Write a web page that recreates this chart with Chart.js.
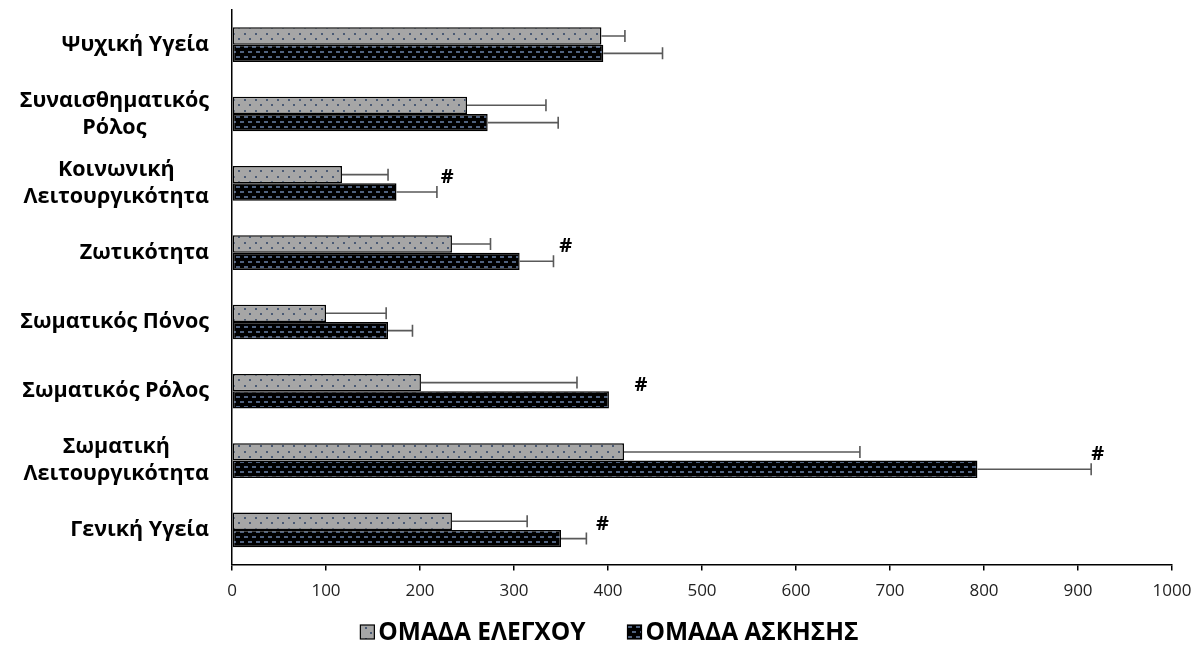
<!DOCTYPE html>
<html><head><meta charset="utf-8">
<script src="https://cdn.jsdelivr.net/npm/chart.js@4/dist/chart.umd.min.js"></script>
<style>html,body{margin:0;padding:0;background:#fff}#wrap{width:1199px;height:652px;position:relative}</style>
</head><body><div id="wrap"><canvas id="c"></canvas></div>
<script>
const categories = ['Ψυχική Υγεία', ['Συναισθηματικός','Ρόλος'], ['Κοινωνική','Λειτουργικότητα'], 'Ζωτικότητα', 'Σωματικός Πόνος', 'Σωματικός Ρόλος', ['Σωματική','Λειτουργικότητα'], 'Γενική Υγεία'];
const seriesNames = ['ΟΜΑΔΑ ΕΛΕΓΧΟΥ', 'ΟΜΑΔΑ ΑΣΚΗΣΗΣ'];
const controlValues = [393, 250, 117, 234, 100, 201, 417, 234];
const controlErrors = [25, 84, 49, 41, 64, 166, 251, 80];
const exerciseValues = [395, 272, 175, 306, 166, 401, 793, 350];
const exerciseErrors = [63, 75, 43, 36, 26, 0, 121, 27];
const sigMarkValues = [null, null, 229, 355, null, 435, 921, 394];
const xTicks = [0, 100, 200, 300, 400, 500, 600, 700, 800, 900, 1000];

function makePattern(w, h, bg, fg, marks) {
  const c = document.createElement('canvas'); c.width = w; c.height = h;
  const g = c.getContext('2d');
  g.fillStyle = bg; g.fillRect(0, 0, w, h);
  g.fillStyle = fg;
  marks.forEach(m => g.fillRect(m[0], m[1], m[2], m[3]));
  return document.getElementById('c').getContext('2d').createPattern(c, 'repeat');
}
const dotPattern = makePattern(11, 11, '#a6a6a6', '#4a5a74', [[2,0,2,2],[7,5,2,2]]);
const dashPattern = makePattern(8, 10, '#000000', '#50627f', [[0,1,4,2],[4,6,4,2]]);
const fills = [dotPattern, dashPattern];
const allErrors = [controlErrors, exerciseErrors];

const errorBars = {
  id: 'errorBars',
  afterDatasetsDraw(chart) {
    const ctx = chart.ctx, xs = chart.scales.x;
    chart.data.datasets.forEach((ds, di) => {
      const meta = chart.getDatasetMeta(di);
      meta.data.forEach((bar, i) => {
        const e = allErrors[di][i]; if (!e) return;
        const x0 = bar.x, x1 = xs.getPixelForValue(ds.data[i] + e), y = bar.y;
        ctx.save(); ctx.strokeStyle = '#595959'; ctx.lineWidth = 1.6;
        ctx.beginPath(); ctx.moveTo(x0, y); ctx.lineTo(x1, y);
        ctx.moveTo(x1, y - 6); ctx.lineTo(x1, y + 6); ctx.stroke(); ctx.restore();
      });
    });
  }
};

const yLabels = {
  id: 'yLabels',
  afterDraw(chart) {
    const ctx = chart.ctx, ys = chart.scales.y, right = chart.chartArea.left - 23;
    ctx.save();
    ctx.font = 'bold 21.5px "Open Sans"'; ctx.fillStyle = '#000';
    ctx.textAlign = 'center'; ctx.textBaseline = 'middle';
    categories.forEach((lab, i) => {
      const lines = Array.isArray(lab) ? lab : [lab];
      const w = Math.max(...lines.map(l => ctx.measureText(l).width));
      const cx = right - w / 2, cy = ys.getPixelForValue(i), lh = 27;
      lines.forEach((l, k) => ctx.fillText(l, cx, cy + (k - (lines.length - 1) / 2) * lh));
    });
    ctx.restore();
  }
};

const sigMarks = {
  id: 'sigMarks',
  afterDraw(chart) {
    const ctx = chart.ctx, xs = chart.scales.x, ys = chart.scales.y;
    ctx.save();
    ctx.font = 'bold 20px "Open Sans"'; ctx.fillStyle = '#000';
    ctx.textAlign = 'center'; ctx.textBaseline = 'middle';
    sigMarkValues.forEach((v, i) => {
      if (v == null) return;
      ctx.fillText('#', xs.getPixelForValue(v), ys.getPixelForValue(i) - 6);
    });
    ctx.restore();
  }
};

const customLegend = {
  id: 'customLegend',
  afterDraw(chart) {
    const ctx = chart.ctx;
    ctx.save();
    ctx.font = 'bold 24.5px "Open Sans"'; ctx.textBaseline = 'middle'; ctx.textAlign = 'left';
    const box = 14, gapText = 4, gapItems = 42;
    const widths = seriesNames.map(n => ctx.measureText(n).width);
    const total = widths.reduce((a, w) => a + box + gapText + w, 0) + gapItems * (seriesNames.length - 1);
    let x = (chart.width - total) / 2 + 10;
    const y = 632;
    seriesNames.forEach((n, i) => {
      ctx.fillStyle = fills[i]; ctx.fillRect(x, y - box / 2, box, box);
      ctx.strokeStyle = '#000'; ctx.lineWidth = 1.2; ctx.strokeRect(x, y - box / 2, box, box);
      ctx.fillStyle = '#000'; ctx.fillText(n, x + box + gapText, y + 1);
      x += box + gapText + widths[i] + gapItems;
    });
    ctx.restore();
  }
};

new Chart(document.getElementById('c'), {
  type: 'bar',
  data: {
    labels: categories,
    datasets: [
      { label: seriesNames[0], data: controlValues, backgroundColor: dotPattern, borderColor: '#000', borderWidth: 1.5, borderSkipped: false, categoryPercentage: 0.5, barPercentage: 1.0 },
      { label: seriesNames[1], data: exerciseValues, backgroundColor: dashPattern, borderColor: '#000', borderWidth: 1.5, borderSkipped: false, categoryPercentage: 0.5, barPercentage: 1.0 }
    ]
  },
  options: {
    indexAxis: 'y',
    responsive: true, maintainAspectRatio: false, animation: false, devicePixelRatio: 1,
    layout: { padding: { top: 10, right: 27, bottom: 41, left: 0 } },
    plugins: {
      legend: { display: false },
      tooltip: { enabled: false }
    },
    scales: {
      x: {
        min: 0, max: 1000,
        afterBuildTicks(scale) { scale.ticks = xTicks.map(v => ({ value: v })); },
        afterFit(scale) { scale.paddingRight = 0; scale.paddingLeft = 0; },
        grid: { display: true, drawOnChartArea: false, drawTicks: true, tickLength: 6, color: '#000', lineWidth: 1.5 },
        border: { display: true, color: '#000', width: 1.5 },
        ticks: { color: '#222', padding: 10, font: { family: 'Open Sans', size: 17 }, callback: (v) => String(v) }
      },
      y: {
        grid: { display: false },
        border: { display: true, color: '#000', width: 1.5 },
        ticks: { display: false },
        afterFit(scale) { scale.width = 232; }
      }
    }
  },
  plugins: [errorBars, yLabels, sigMarks, customLegend]
});
</script></body></html>
